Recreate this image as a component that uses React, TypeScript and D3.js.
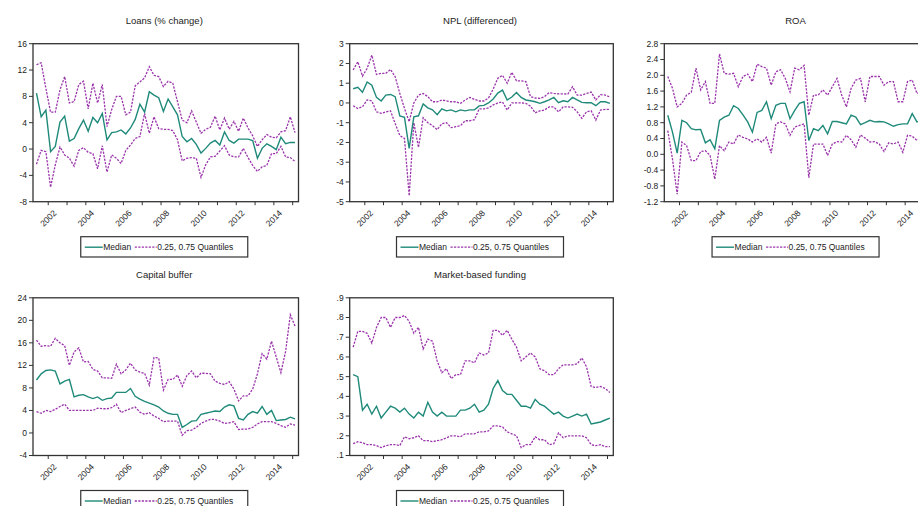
import React from 'react';
import * as d3 from 'd3';

// Quarterly observations 2001Q2 .. 2015Q1
const quarters: string[] = (() => {
  const q: string[] = [];
  for (let i = 0; i < 56; i++) {
    const k = 1 + i;
    q.push(`${2001 + Math.floor(k / 4)}Q${(k % 4) + 1}`);
  }
  return q;
})();

const yearTicks = [2002, 2003, 2004, 2005, 2006, 2007, 2008, 2009, 2010, 2011, 2012, 2013, 2014, 2015];
const yearLabels = [2002, 2004, 2006, 2008, 2010, 2012, 2014];

const loansMedian = [8.5, 4.9, 5.9, -0.4, 0.4, 4.1, 5.0, 1.2, 1.6, 3.1, 4.4, 2.7, 4.8, 4.0, 5.4, 1.4, 2.5, 2.6, 2.9, 2.3, 3.2, 4.5, 6.8, 5.6, 8.7, 8.2, 7.8, 5.7, 7.6, 6.4, 5.2, 1.9, 1.1, 1.6, 0.7, -0.6, 0.1, 0.9, 1.3, 0.6, 2.6, 1.3, 0.9, 1.5, 1.5, 1.5, 1.3, -1.4, 0.1, 0.8, 0.4, -0.1, 1.8, 0.8, 1.0, 1.0];
const loansUpper = [12.8, 13.1, 9.2, 5.6, 5.6, 9.0, 11.0, 7.0, 7.2, 9.8, 10.3, 6.1, 10.0, 7.0, 9.8, 3.4, 6.0, 8.0, 8.0, 5.2, 5.6, 9.6, 10.2, 10.8, 12.5, 11.2, 11.0, 9.5, 10.3, 10.0, 7.2, 4.4, 4.0, 5.8, 4.1, 2.4, 3.0, 3.3, 5.0, 2.9, 4.7, 3.0, 4.2, 2.7, 4.7, 3.2, 2.0, 0.4, 1.4, 2.2, 1.8, 1.7, 2.6, 2.8, 4.9, 2.5];
const loansLower = [-2.3, -0.2, -0.4, -5.8, -2.4, 0.3, -0.9, -1.4, -2.6, -0.2, 0.2, -0.5, -0.7, -3.0, 0.5, -3.5, -0.9, -1.4, -2.2, -0.2, 0.6, 1.6, 1.9, 5.4, 2.4, 4.9, 3.1, 3.0, 3.0, 2.8, 1.4, -1.8, -1.4, -1.3, -1.4, -4.3, -2.4, -1.2, -1.1, -0.3, 0.5, -0.9, -1.2, -1.2, 0.1, -1.3, -2.5, -3.4, -2.7, -2.5, -0.7, -0.7, 0.4, -1.2, -1.3, -1.9];

const nplMedian = [0.72, 0.79, 0.54, 1.06, 0.9, 0.28, 0.1, 0.4, 0.43, 0.32, -0.66, -0.73, -2.3, -0.7, -0.65, -0.05, -0.25, -0.35, -0.6, -0.3, -0.4, -0.35, -0.45, -0.35, -0.4, -0.35, -0.35, -0.15, -0.12, 0.0, 0.2, 0.5, 0.65, 0.15, 0.3, 0.53, 0.28, 0.15, 0.11, 0.06, -0.02, 0.06, 0.15, 0.28, 0.01, 0.11, 0.06, 0.28, 0.15, 0.03, 0.01, 0.01, -0.14, 0.06, 0.06, -0.02];
const nplUpper = [1.67, 2.09, 1.36, 1.75, 2.42, 1.44, 1.5, 1.5, 1.7, 1.33, 0.48, -0.28, -0.95, 0.0, 0.4, 0.48, 0.32, 0.06, 0.06, 0.15, 0.1, 0.06, 0.06, -0.02, 0.15, 0.28, 0.18, 0.1, 0.1, 0.25, 0.7, 1.25, 1.4, 1.0, 1.55, 1.12, 1.12, 1.08, 0.32, 0.25, 0.23, 0.32, 0.52, 0.48, 0.46, 0.46, 0.45, 0.82, 0.4, 0.4, 0.48, 0.55, 0.15, 0.42, 0.4, 0.3];
const nplLower = [-0.14, -0.28, -0.19, 0.15, 0.1, -0.45, -0.53, -0.45, -0.4, -1.04, -1.65, -1.8, -4.7, -1.0, -2.25, -0.75, -1.0, -1.15, -1.35, -1.05, -1.0, -1.25, -1.2, -1.15, -0.9, -0.9, -0.85, -0.3, -0.3, -0.25, -0.1, 0.0, 0.05, -0.36, 0.0, 0.0, 0.0, -0.02, -0.16, -0.5, -0.4, -0.36, -0.2, -0.2, -0.45, -0.2, -0.2, -0.22, -0.45, -0.78, -0.45, -0.4, -0.87, -0.36, -0.33, -0.33];

const roaMedian = [0.99, 0.56, 0.03, 0.86, 0.8, 0.65, 0.62, 0.63, 0.29, 0.37, 0.14, 0.86, 0.94, 0.99, 1.23, 1.16, 1.0, 0.82, 0.56, 1.06, 1.11, 1.33, 0.9, 1.24, 1.29, 1.29, 0.9, 1.11, 1.29, 1.33, 0.35, 0.65, 0.6, 0.73, 0.52, 0.83, 0.83, 0.8, 0.77, 0.99, 0.94, 0.75, 0.8, 0.86, 0.82, 0.83, 0.82, 0.77, 0.71, 0.75, 0.77, 0.77, 1.03, 0.82, 0.85, 0.9];
const roaUpper = [1.97, 1.67, 1.2, 1.29, 1.5, 1.57, 2.18, 1.63, 1.84, 1.29, 1.29, 2.54, 2.05, 2.03, 2.05, 1.71, 1.97, 2.03, 1.84, 2.28, 2.22, 2.18, 1.75, 2.09, 2.14, 1.92, 1.58, 2.18, 2.14, 2.25, 0.99, 1.5, 1.5, 1.63, 1.5, 1.71, 1.92, 1.5, 1.2, 1.67, 1.88, 1.92, 1.33, 1.97, 1.97, 1.97, 1.75, 1.84, 1.84, 1.33, 1.33, 1.84, 1.88, 1.54, 1.6, 1.7];
const roaLower = [0.6, -0.12, -1.01, 0.31, 0.22, -0.16, -0.16, 0.07, 0.09, -0.03, -0.63, 0.22, 0.09, 0.31, 0.26, 0.49, 0.43, 0.39, 0.31, 0.39, 0.31, 0.43, 0.03, 0.77, 0.82, 0.77, 0.48, 0.69, 0.73, 0.77, -0.59, 0.26, 0.26, 0.26, -0.03, 0.26, 0.32, 0.31, 0.48, 0.37, 0.18, 0.49, 0.41, 0.31, 0.32, 0.26, 0.07, 0.29, 0.26, 0.31, 0.05, 0.48, 0.46, 0.35, 0.4, 0.42];

const capMedian = [9.4, 10.5, 11.1, 11.2, 11.0, 8.7, 9.2, 9.5, 6.4, 6.7, 6.8, 6.4, 6.1, 6.4, 5.8, 6.1, 6.2, 7.2, 7.2, 7.2, 7.9, 6.5, 6.0, 5.6, 5.3, 5.0, 4.6, 3.9, 3.5, 3.3, 3.3, 1.0, 1.5, 2.1, 2.2, 3.3, 3.5, 3.7, 3.9, 3.8, 4.6, 5.0, 4.8, 2.6, 2.3, 3.3, 3.8, 3.5, 4.7, 3.3, 4.0, 2.2, 2.3, 2.4, 2.8, 2.5];
const capUpper = [16.5, 15.4, 15.5, 15.4, 16.8, 16.0, 15.5, 12.0, 14.4, 15.1, 12.6, 12.7, 11.3, 11.0, 9.8, 9.8, 9.7, 12.2, 10.5, 11.2, 12.4, 11.2, 10.8, 10.6, 8.5, 13.4, 13.3, 7.6, 9.5, 9.5, 10.3, 8.3, 10.2, 11.0, 9.8, 10.6, 10.6, 10.5, 9.2, 8.8, 8.6, 9.1, 7.8, 5.7, 6.6, 6.6, 7.8, 10.5, 14.1, 13.1, 16.3, 13.5, 10.7, 14.5, 21.0, 19.0];
const capLower = [3.8, 3.5, 4.0, 3.8, 4.2, 4.7, 5.1, 4.0, 4.0, 4.0, 4.0, 4.0, 4.0, 4.4, 4.3, 4.3, 4.5, 5.1, 3.6, 4.0, 4.3, 4.6, 3.7, 3.3, 3.6, 3.0, 2.6, 2.0, 2.1, 2.1, 2.1, -0.4, 0.4, 0.5, 1.0, 1.7, 2.1, 2.4, 2.4, 2.1, 1.7, 1.8, 2.0, 0.6, 0.7, 0.7, 1.0, 1.6, 2.0, 2.0, 2.0, 1.7, 1.3, 1.0, 1.6, 1.4];

const mbfMedian = [0.51, 0.50, 0.33, 0.36, 0.31, 0.35, 0.29, 0.32, 0.35, 0.34, 0.32, 0.34, 0.31, 0.29, 0.32, 0.30, 0.37, 0.32, 0.30, 0.32, 0.30, 0.30, 0.30, 0.33, 0.33, 0.34, 0.36, 0.32, 0.33, 0.36, 0.44, 0.48, 0.43, 0.41, 0.41, 0.38, 0.35, 0.35, 0.34, 0.385, 0.36, 0.35, 0.33, 0.31, 0.32, 0.30, 0.29, 0.30, 0.31, 0.30, 0.31, 0.26, 0.265, 0.27, 0.28, 0.29];
const mbfUpper = [0.65, 0.73, 0.73, 0.72, 0.67, 0.75, 0.80, 0.80, 0.75, 0.80, 0.80, 0.81, 0.78, 0.72, 0.75, 0.64, 0.69, 0.68, 0.58, 0.52, 0.54, 0.49, 0.51, 0.51, 0.58, 0.58, 0.57, 0.62, 0.61, 0.62, 0.735, 0.735, 0.71, 0.735, 0.69, 0.65, 0.58, 0.60, 0.62, 0.60, 0.54, 0.53, 0.51, 0.51, 0.54, 0.56, 0.56, 0.56, 0.565, 0.595, 0.55, 0.45, 0.445, 0.45, 0.44, 0.42];
const mbfLower = [0.16, 0.17, 0.165, 0.155, 0.155, 0.15, 0.14, 0.15, 0.155, 0.155, 0.15, 0.195, 0.185, 0.19, 0.20, 0.175, 0.175, 0.17, 0.175, 0.18, 0.19, 0.20, 0.20, 0.195, 0.21, 0.21, 0.21, 0.22, 0.22, 0.225, 0.25, 0.25, 0.245, 0.22, 0.21, 0.20, 0.14, 0.155, 0.155, 0.195, 0.18, 0.18, 0.155, 0.16, 0.215, 0.19, 0.20, 0.20, 0.20, 0.20, 0.19, 0.155, 0.15, 0.155, 0.145, 0.145];

const titles = ['Loans (% change)', 'NPL (differenced)', 'ROA', 'Capital buffer', 'Market-based funding'];
const yTickValues = [
  [16, 12, 8, 4, 0, -4, -8],
  [3, 2, 1, 0, -1, -2, -3, -4, -5],
  [2.8, 2.4, 2.0, 1.6, 1.2, 0.8, 0.4, 0.0, -0.4, -0.8, -1.2],
  [24, 20, 16, 12, 8, 4, 0, -4],
  [0.9, 0.8, 0.7, 0.6, 0.5, 0.4, 0.3, 0.2, 0.1],
];
const yTickLabels = [
  ['16', '12', '8', '4', '0', '-4', '-8'],
  ['3', '2', '1', '0', '-1', '-2', '-3', '-4', '-5'],
  ['2.8', '2.4', '2.0', '1.6', '1.2', '0.8', '0.4', '0.0', '-0.4', '-0.8', '-1.2'],
  ['24', '20', '16', '12', '8', '4', '0', '-4'],
  ['.9', '.8', '.7', '.6', '.5', '.4', '.3', '.2', '.1'],
];
const medians = [loansMedian, nplMedian, roaMedian, capMedian, mbfMedian];
const uppers = [loansUpper, nplUpper, roaUpper, capUpper, mbfUpper];
const lowers = [loansLower, nplLower, roaLower, capLower, mbfLower];
const legendLabels = ['Median', '0.25, 0.75 Quantiles'];

// layout (pixels)
const frames = [
  { left: 33, right: 298.5, top: 43.7, bottom: 201.7 },
  { left: 349.7, right: 613.3, top: 43.7, bottom: 201.7 },
  { left: 664.3, right: 929.8, top: 43.7, bottom: 201.7 },
  { left: 33, right: 298.5, top: 297.8, bottom: 455.5 },
  { left: 349.7, right: 613.3, top: 297.8, bottom: 455.5 },
];

const MEDIAN_COLOR = '#1f8a7a';
const QUANT_COLOR = '#9a34ab';
const FONT = '"Liberation Sans", Arial, sans-serif';

const qTime = (q: string) => {
  const y = +q.slice(0, 4);
  const k = +q.slice(5);
  return y + (k - 1) * 0.25 + 0.125;
};

function Panel({ idx }: { idx: number }) {
  const f = frames[idx];
  const ticks = yTickValues[idx];
  const x = d3.scaleLinear().domain([2001.19, 2015.31]).range([f.left, f.right]);
  const y = d3
    .scaleLinear()
    .domain([d3.min(ticks) as number, d3.max(ticks) as number])
    .range([f.bottom, f.top]);
  const line = d3
    .line<number>()
    .x((_, i) => x(qTime(quarters[i])))
    .y((d) => y(d));
  const cx = (f.left + f.right) / 2 - 1.5;
  const lw = 167;
  const lx = cx - lw / 2;
  const ly = f.bottom + 35;
  return (
    <g>
      <text x={cx} y={f.top - 20} textAnchor="middle" fontSize={9.5} fill="#222" fontFamily={FONT}>
        {titles[idx]}
      </text>
      <path d={line(uppers[idx]) || ''} fill="none" stroke={QUANT_COLOR} strokeWidth={1.3} strokeDasharray="2.2,1.3" />
      <path d={line(lowers[idx]) || ''} fill="none" stroke={QUANT_COLOR} strokeWidth={1.3} strokeDasharray="2.2,1.3" />
      <path d={line(medians[idx]) || ''} fill="none" stroke={MEDIAN_COLOR} strokeWidth={1.4} />
      <rect x={f.left} y={f.top} width={f.right - f.left} height={f.bottom - f.top} fill="none" stroke="#333" strokeWidth={1.3} />
      {ticks.map((t, i) => (
        <g key={'y' + i}>
          <line x1={f.left - 4} x2={f.left} y1={y(t)} y2={y(t)} stroke="#333" strokeWidth={1} />
          <text x={f.left - 6} y={y(t)} dy="0.35em" textAnchor="end" fontSize={8.5} fill="#222" fontFamily={FONT}>
            {yTickLabels[idx][i]}
          </text>
        </g>
      ))}
      {yearTicks.map((yr) => (
        <line key={'x' + yr} x1={x(yr)} x2={x(yr)} y1={f.bottom} y2={f.bottom + 3.5} stroke="#333" strokeWidth={1} />
      ))}
      {yearLabels.map((yr) => (
        <text
          key={'xl' + yr}
          transform={`translate(${x(yr)},${f.bottom + 16.5}) rotate(-45)`}
          textAnchor="middle"
          dy="0.35em"
          fontSize={8.5}
          fill="#222"
          fontFamily={FONT}
        >
          {yr}
        </text>
      ))}
      <rect x={lx} y={ly} width={lw} height={20.3} fill="#fff" stroke="#333" strokeWidth={1.2} />
      <line x1={lx + 4} x2={lx + 22} y1={ly + 10.5} y2={ly + 10.5} stroke={MEDIAN_COLOR} strokeWidth={1.4} />
      <text x={lx + 22.5} y={ly + 10.5} dy="0.35em" fontSize={8.5} fill="#222" fontFamily={FONT}>
        {legendLabels[0]}
      </text>
      <line x1={lx + 54} x2={lx + 76} y1={ly + 10.5} y2={ly + 10.5} stroke={QUANT_COLOR} strokeWidth={1.3} strokeDasharray="2.2,1.3" />
      <text x={lx + 76.5} y={ly + 10.5} dy="0.35em" fontSize={8.5} fill="#222" fontFamily={FONT}>
        {legendLabels[1]}
      </text>
    </g>
  );
}

export default function App() {
  return (
    <svg
      width={918}
      height={506}
      viewBox="0 0 918 506"
      style={{ position: 'absolute', left: 0, top: 0, background: '#fff' }}
    >
      <rect width={918} height={506} fill="#fff" />
      {titles.map((_, i) => (
        <Panel key={i} idx={i} />
      ))}
    </svg>
  );
}
